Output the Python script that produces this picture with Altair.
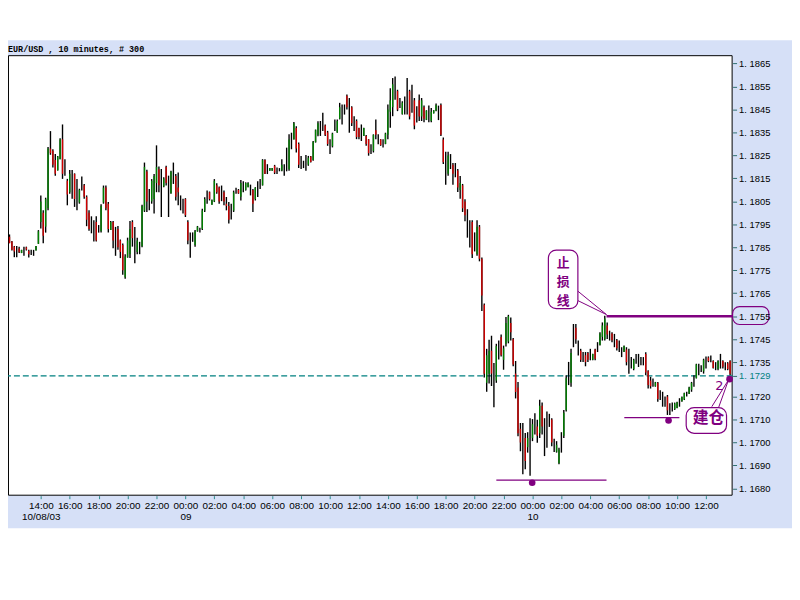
import altair as alt
import pandas as pd

# ---------------- data ----------------
title_text = "EUR/USD , 10 minutes, # 300"
bar_start = "2003-10-08 11:50"          # first 10-minute bar
day0 = "2003-10-08 00:00"

opens = [
    1.17896, 1.17875, 1.17853, 1.17835, 1.17845, 1.17825, 1.17835, 1.17850, 1.17835, 1.17825,
    1.17825, 1.17836, 1.17865, 1.17960, 1.18000, 1.17940, 1.18020, 1.18280, 1.18270, 1.18230,
    1.18185, 1.18234, 1.18320, 1.18175, 1.18140, 1.18090, 1.18135, 1.18170, 1.18065, 1.18045,
    1.18115, 1.18120, 1.18070, 1.18000, 1.17955, 1.17925, 1.17960, 1.17925, 1.17920, 1.18045,
    1.18110, 1.18040, 1.17925, 1.17960, 1.17870, 1.17930, 1.17880, 1.17860, 1.17720, 1.17806,
    1.17820, 1.17960, 1.17840, 1.17830, 1.17845, 1.17855, 1.18010, 1.18180, 1.18050, 1.18050,
    1.18060, 1.18130, 1.18190, 1.18120, 1.18115, 1.18200, 1.18115, 1.18085, 1.18175, 1.18160,
    1.18110, 1.18045, 1.18025, 1.18060, 1.17960, 1.17855, 1.17890, 1.17860, 1.17920, 1.17925,
    1.17930, 1.18010, 1.18065, 1.18090, 1.18035, 1.18050, 1.18120, 1.18110, 1.18085, 1.18090,
    1.18040, 1.18030, 1.17995, 1.18010, 1.18095, 1.18100, 1.18070, 1.18115, 1.18100, 1.18112,
    1.18100, 1.18100, 1.18060, 1.18105, 1.18125, 1.18120, 1.18230, 1.18190, 1.18183, 1.18183,
    1.18205, 1.18185, 1.18188, 1.18185, 1.18190, 1.18230, 1.18190, 1.18310, 1.18320, 1.18370,
    1.18300, 1.18220, 1.18210, 1.18215, 1.18210, 1.18245, 1.18230, 1.18308, 1.18340, 1.18370,
    1.18395, 1.18380, 1.18350, 1.18290, 1.18290, 1.18380, 1.18350, 1.18410, 1.18430, 1.18450,
    1.18510, 1.18420, 1.18460, 1.18390, 1.18400, 1.18370, 1.18350, 1.18335, 1.18335, 1.18320,
    1.18275, 1.18270, 1.18360, 1.18320, 1.18320, 1.18300, 1.18300, 1.18340, 1.18440, 1.18460,
    1.18540, 1.18530, 1.18480, 1.18430, 1.18470, 1.18500, 1.18530, 1.18490, 1.18490, 1.18430,
    1.18490, 1.18420, 1.18460, 1.18405, 1.18430, 1.18400, 1.18433, 1.18445, 1.18435, 1.18470,
    1.18320, 1.18200, 1.18170, 1.18220, 1.18210, 1.18185, 1.18185, 1.18100, 1.18120, 1.18050,
    1.17950, 1.17900, 1.17960, 1.17870, 1.17820, 1.17940, 1.17800, 1.17600, 1.17260, 1.17300,
    1.17400, 1.17260, 1.17270, 1.17400, 1.17460, 1.17360, 1.17430, 1.17440, 1.17520, 1.17450,
    1.17300, 1.17240, 1.17060, 1.16960, 1.17020, 1.16980, 1.16980, 1.17020, 1.17080, 1.17070,
    1.17040, 1.17160, 1.17040, 1.17050, 1.17095, 1.17100, 1.16990, 1.16960, 1.16910, 1.16990,
    1.17030, 1.17140, 1.17300, 1.17260, 1.17460, 1.17500, 1.17410, 1.17400, 1.17370, 1.17380,
    1.17390, 1.17380, 1.17360, 1.17405, 1.17415, 1.17425, 1.17460, 1.17450, 1.17510, 1.17465,
    1.17475, 1.17445, 1.17445, 1.17420, 1.17390, 1.17395, 1.17405, 1.17350, 1.17345, 1.17320,
    1.17365, 1.17355, 1.17355, 1.17350, 1.17385, 1.17310, 1.17270, 1.17260, 1.17245, 1.17260,
    1.17205, 1.17185, 1.17175, 1.17200, 1.17145, 1.17155, 1.17145, 1.17150, 1.17175, 1.17180,
    1.17188, 1.17210, 1.17212, 1.17230, 1.17265, 1.17280, 1.17320, 1.17320, 1.17310, 1.17350,
    1.17370, 1.17365, 1.17355, 1.17330, 1.17320, 1.17350, 1.17355, 1.17330, 1.17345, 1.17355,
]

highs = [
    1.17906, 1.17878, 1.17856, 1.17856, 1.17853, 1.17839, 1.17853, 1.17853, 1.17839, 1.17839,
    1.17839, 1.17856, 1.17925, 1.18076, 1.18011, 1.18066, 1.18287, 1.18356, 1.18277, 1.18256,
    1.18248, 1.18325, 1.18385, 1.18234, 1.18148, 1.18187, 1.18187, 1.18172, 1.18148, 1.18105,
    1.18158, 1.18126, 1.18076, 1.18011, 1.17985, 1.17968, 1.17985, 1.17947, 1.18037, 1.18119,
    1.18119, 1.18047, 1.17965, 1.17965, 1.17939, 1.17943, 1.17884, 1.17867, 1.17820, 1.17892,
    1.17965, 1.17968, 1.17939, 1.17892, 1.17874, 1.18035, 1.18219, 1.18188, 1.18104, 1.18147,
    1.18169, 1.18294, 1.18202, 1.18191, 1.18155, 1.18205, 1.18162, 1.18183, 1.18219, 1.18169,
    1.18176, 1.18076, 1.18061, 1.18064, 1.17968, 1.17915, 1.17915, 1.17925, 1.17943, 1.17935,
    1.18018, 1.18068, 1.18097, 1.18093, 1.18058, 1.18147, 1.18129, 1.18115, 1.18119, 1.18097,
    1.18069, 1.18047, 1.18040, 1.18097, 1.18109, 1.18104, 1.18143, 1.18138, 1.18133, 1.18133,
    1.18123, 1.18104, 1.18112, 1.18138, 1.18148, 1.18234, 1.18234, 1.18212, 1.18195, 1.18195,
    1.18209, 1.18198, 1.18195, 1.18234, 1.18212, 1.18284, 1.18342, 1.18349, 1.18396, 1.18377,
    1.18306, 1.18248, 1.18227, 1.18252, 1.18248, 1.18248, 1.18313, 1.18363, 1.18399, 1.18400,
    1.18436, 1.18385, 1.18357, 1.18321, 1.18349, 1.18407, 1.18407, 1.18479, 1.18472, 1.18472,
    1.18515, 1.18500, 1.18464, 1.18421, 1.18407, 1.18371, 1.18385, 1.18371, 1.18339, 1.18321,
    1.18299, 1.18342, 1.18407, 1.18342, 1.18321, 1.18321, 1.18349, 1.18472, 1.18543, 1.18587,
    1.18594, 1.18536, 1.18500, 1.18486, 1.18507, 1.18587, 1.18536, 1.18558, 1.18500, 1.18464,
    1.18515, 1.18500, 1.18467, 1.18447, 1.18467, 1.18457, 1.18447, 1.18476, 1.18467, 1.18476,
    1.18328, 1.18266, 1.18266, 1.18256, 1.18217, 1.18217, 1.18191, 1.18160, 1.18126, 1.18059,
    1.18016, 1.17968, 1.17968, 1.17915, 1.17968, 1.17947, 1.17806, 1.17605, 1.17408, 1.17447,
    1.17465, 1.17346, 1.17430, 1.17444, 1.17470, 1.17422, 1.17547, 1.17556, 1.17544, 1.17455,
    1.17355, 1.17264, 1.17085, 1.17085, 1.17042, 1.17045, 1.17106, 1.17102, 1.17128, 1.17099,
    1.17186, 1.17174, 1.17106, 1.17135, 1.17125, 1.17106, 1.17016, 1.17006, 1.16977, 1.17045,
    1.17142, 1.17293, 1.17351, 1.17408, 1.17516, 1.17516, 1.17444, 1.17408, 1.17394, 1.17394,
    1.17394, 1.17408, 1.17387, 1.17408, 1.17437, 1.17480, 1.17523, 1.17552, 1.17523, 1.17487,
    1.17480, 1.17473, 1.17451, 1.17444, 1.17415, 1.17423, 1.17415, 1.17408, 1.17372, 1.17365,
    1.17386, 1.17386, 1.17372, 1.17372, 1.17393, 1.17315, 1.17286, 1.17279, 1.17264, 1.17264,
    1.17228, 1.17221, 1.17200, 1.17207, 1.17171, 1.17174, 1.17174, 1.17178, 1.17193, 1.17200,
    1.17217, 1.17221, 1.17243, 1.17264, 1.17293, 1.17343, 1.17343, 1.17336, 1.17365, 1.17375,
    1.17375, 1.17379, 1.17358, 1.17350, 1.17358, 1.17386, 1.17358, 1.17350, 1.17350, 1.17358,
]

lows = [
    1.17868, 1.17836, 1.17807, 1.17807, 1.17825, 1.17825, 1.17813, 1.17836, 1.17806, 1.17817,
    1.17813, 1.17836, 1.17865, 1.17932, 1.17868, 1.17914, 1.18011, 1.18253, 1.18198, 1.18162,
    1.18184, 1.18234, 1.18148, 1.18162, 1.18033, 1.18083, 1.18062, 1.18026, 1.18011, 1.18040,
    1.18097, 1.18062, 1.17942, 1.17922, 1.17911, 1.17875, 1.17875, 1.17914, 1.17914, 1.18040,
    1.18011, 1.17914, 1.17925, 1.17846, 1.17813, 1.17839, 1.17803, 1.17731, 1.17713, 1.17805,
    1.17803, 1.17853, 1.17781, 1.17820, 1.17820, 1.17850, 1.18004, 1.18004, 1.18011, 1.18040,
    1.17997, 1.18090, 1.18090, 1.17982, 1.18112, 1.18119, 1.17982, 1.18083, 1.18126, 1.18054,
    1.18033, 1.18011, 1.17997, 1.17982, 1.17863, 1.17805, 1.17874, 1.17853, 1.17918, 1.17915,
    1.17925, 1.18004, 1.18040, 1.18054, 1.18035, 1.18047, 1.18083, 1.18040, 1.18051, 1.18033,
    1.18011, 1.17954, 1.17971, 1.18004, 1.18083, 1.18083, 1.18054, 1.18090, 1.18097, 1.18112,
    1.18076, 1.18004, 1.18054, 1.18069, 1.18104, 1.18119, 1.18169, 1.18169, 1.18183, 1.18183,
    1.18169, 1.18169, 1.18181, 1.18181, 1.18162, 1.18181, 1.18183, 1.18277, 1.18320, 1.18263,
    1.18195, 1.18191, 1.18195, 1.18183, 1.18205, 1.18219, 1.18227, 1.18306, 1.18334, 1.18335,
    1.18357, 1.18335, 1.18292, 1.18256, 1.18285, 1.18357, 1.18349, 1.18407, 1.18385, 1.18428,
    1.18450, 1.18349, 1.18378, 1.18357, 1.18321, 1.18321, 1.18313, 1.18335, 1.18292, 1.18249,
    1.18256, 1.18263, 1.18321, 1.18299, 1.18292, 1.18285, 1.18299, 1.18321, 1.18371, 1.18421,
    1.18493, 1.18443, 1.18457, 1.18428, 1.18428, 1.18428, 1.18407, 1.18436, 1.18364, 1.18393,
    1.18400, 1.18400, 1.18395, 1.18404, 1.18395, 1.18395, 1.18433, 1.18443, 1.18404, 1.18335,
    1.18213, 1.18122, 1.18162, 1.18191, 1.18122, 1.18155, 1.18091, 1.18062, 1.18004, 1.17964,
    1.17892, 1.17849, 1.17803, 1.17832, 1.17813, 1.17789, 1.17573, 1.17283, 1.17221, 1.17257,
    1.17246, 1.17154, 1.17260, 1.17361, 1.17375, 1.17317, 1.17418, 1.17432, 1.17444, 1.17332,
    1.17192, 1.17027, 1.16962, 1.16862, 1.16884, 1.16956, 1.16855, 1.17006, 1.17035, 1.16999,
    1.17020, 1.17035, 1.16941, 1.16977, 1.17068, 1.16984, 1.16959, 1.16956, 1.16905, 1.16956,
    1.17020, 1.17135, 1.17250, 1.17243, 1.17415, 1.17430, 1.17379, 1.17351, 1.17351, 1.17332,
    1.17351, 1.17358, 1.17358, 1.17358, 1.17394, 1.17423, 1.17444, 1.17444, 1.17451, 1.17444,
    1.17437, 1.17415, 1.17401, 1.17394, 1.17372, 1.17394, 1.17336, 1.17300, 1.17322, 1.17315,
    1.17343, 1.17329, 1.17336, 1.17336, 1.17293, 1.17235, 1.17235, 1.17243, 1.17243, 1.17178,
    1.17185, 1.17156, 1.17156, 1.17120, 1.17120, 1.17135, 1.17142, 1.17149, 1.17156, 1.17178,
    1.17185, 1.17200, 1.17211, 1.17221, 1.17243, 1.17279, 1.17293, 1.17307, 1.17300, 1.17322,
    1.17350, 1.17350, 1.17322, 1.17315, 1.17315, 1.17322, 1.17322, 1.17315, 1.17315, 1.17293,
]

closes = [
    1.17868, 1.17839, 1.17832, 1.17835, 1.17828, 1.17839, 1.17835, 1.17840, 1.17820, 1.17825,
    1.17825, 1.17856, 1.17920, 1.18050, 1.17900, 1.18060, 1.18280, 1.18260, 1.18210, 1.18170,
    1.18245, 1.18320, 1.18170, 1.18175, 1.18080, 1.18170, 1.18135, 1.18060, 1.18065, 1.18100,
    1.18115, 1.18070, 1.17970, 1.17930, 1.17955, 1.17925, 1.17880, 1.17925, 1.18030, 1.18110,
    1.18020, 1.17930, 1.17960, 1.17880, 1.17870, 1.17850, 1.17830, 1.17750, 1.17810, 1.17880,
    1.17930, 1.17890, 1.17840, 1.17880, 1.17845, 1.18030, 1.18200, 1.18050, 1.18050, 1.18140,
    1.18160, 1.18200, 1.18120, 1.18120, 1.18150, 1.18130, 1.18115, 1.18180, 1.18175, 1.18070,
    1.18090, 1.18045, 1.18025, 1.17990, 1.17880, 1.17855, 1.17890, 1.17920, 1.17940, 1.17925,
    1.18010, 1.18060, 1.18065, 1.18060, 1.18055, 1.18140, 1.18090, 1.18050, 1.18085, 1.18050,
    1.18030, 1.17970, 1.17995, 1.18090, 1.18095, 1.18085, 1.18130, 1.18115, 1.18130, 1.18130,
    1.18100, 1.18040, 1.18110, 1.18105, 1.18125, 1.18230, 1.18170, 1.18190, 1.18195, 1.18195,
    1.18175, 1.18185, 1.18188, 1.18210, 1.18190, 1.18230, 1.18320, 1.18310, 1.18390, 1.18280,
    1.18210, 1.18220, 1.18210, 1.18215, 1.18240, 1.18222, 1.18310, 1.18360, 1.18390, 1.18370,
    1.18395, 1.18340, 1.18300, 1.18290, 1.18345, 1.18380, 1.18400, 1.18460, 1.18430, 1.18450,
    1.18460, 1.18420, 1.18390, 1.18390, 1.18330, 1.18330, 1.18350, 1.18370, 1.18300, 1.18260,
    1.18275, 1.18340, 1.18340, 1.18320, 1.18295, 1.18300, 1.18345, 1.18450, 1.18490, 1.18560,
    1.18540, 1.18450, 1.18480, 1.18480, 1.18470, 1.18500, 1.18420, 1.18490, 1.18380, 1.18430,
    1.18420, 1.18490, 1.18410, 1.18445, 1.18430, 1.18440, 1.18447, 1.18470, 1.18435, 1.18340,
    1.18220, 1.18200, 1.18250, 1.18220, 1.18170, 1.18185, 1.18110, 1.18130, 1.18020, 1.17990,
    1.17950, 1.17900, 1.17820, 1.17870, 1.17940, 1.17800, 1.17640, 1.17300, 1.17380, 1.17400,
    1.17300, 1.17260, 1.17420, 1.17400, 1.17380, 1.17410, 1.17520, 1.17550, 1.17480, 1.17340,
    1.17220, 1.17040, 1.17000, 1.16960, 1.16920, 1.17020, 1.16980, 1.17080, 1.17080, 1.17030,
    1.17160, 1.17070, 1.17040, 1.17050, 1.17095, 1.17000, 1.16990, 1.16990, 1.16970, 1.16990,
    1.17130, 1.17280, 1.17300, 1.17390, 1.17460, 1.17450, 1.17410, 1.17360, 1.17370, 1.17350,
    1.17360, 1.17380, 1.17385, 1.17365, 1.17415, 1.17475, 1.17510, 1.17540, 1.17470, 1.17465,
    1.17445, 1.17445, 1.17410, 1.17420, 1.17390, 1.17420, 1.17350, 1.17350, 1.17345, 1.17360,
    1.17365, 1.17355, 1.17355, 1.17350, 1.17305, 1.17250, 1.17245, 1.17260, 1.17262, 1.17190,
    1.17205, 1.17185, 1.17175, 1.17140, 1.17145, 1.17155, 1.17170, 1.17175, 1.17175, 1.17198,
    1.17215, 1.17210, 1.17240, 1.17260, 1.17265, 1.17340, 1.17320, 1.17320, 1.17360, 1.17350,
    1.17355, 1.17365, 1.17325, 1.17330, 1.17355, 1.17350, 1.17330, 1.17330, 1.17320, 1.17300,
]

# axis ticks
ytick_values = [1.1865, 1.1855, 1.1845, 1.1835, 1.1825, 1.1815, 1.1805, 1.1795, 1.1785,
                1.1775, 1.1765, 1.1755, 1.1745, 1.1735, 1.1729, 1.1720, 1.1710, 1.1700,
                1.1690, 1.1680]
xtick_hours = [14, 16, 18, 20, 22, 24, 26, 28, 30, 32, 34, 36, 38, 40, 42, 44, 46, 48,
               50, 52, 54, 56, 58, 60]          # hours after 10/08 00:00
date_tick_hours = [14, 24, 48]
date_tick_labels = ["10/08/03", "09", "10"]

# annotations (hours after 10/08 00:00, price)
entry_price = 1.1729
stop_price = 1.1755
stop_line = {"t": [53.12], "t2": [61.84], "price": [stop_price]}
support_t = [45.50, 54.35]
support_t2 = [53.12, 58.16]
support_price = [1.16836, 1.17108]
dot_t = [47.98, 57.41, 61.63]
dot_price = [1.16825, 1.17096, 1.17276]
ptr_t = [51.14, 51.14, 60.40, 60.88]
ptr_p = [1.17659, 1.17618, 1.17156, 1.17154]
ptr_t2 = [53.12, 53.12, 61.56, 61.56]
ptr_p2 = [1.17557, 1.17557, 1.17273, 1.17273]
box_t = [49.10, 58.63]
box_t2 = [51.14, 61.42]
box_p = [1.17583, 1.17040]
box_p2 = [1.17838, 1.17152]
label_box = {"t": [61.84], "t2": [64.35], "p": [1.17514], "p2": [1.17592]}
stop_chars = ["止", "损", "线"]
stop_chars_p = [1.17781, 1.17700, 1.17618]
stop_chars_t = 50.12
entry_text = "建仓"
entry_text_pos = {"t": [60.17], "p": [1.17105]}
count_text = "2"
count_text_pos = {"t": [60.92], "p": [1.17245]}

# ---------------- build ----------------
PURPLE = "#800080"
TEAL = "#008080"
W, H = 732, 445

times = pd.date_range(bar_start, periods=len(opens), freq="10min")
hours = (times - pd.Timestamp(day0)) / pd.Timedelta(hours=1)
bars = pd.DataFrame({"t": hours, "open": opens, "high": highs, "low": lows, "close": closes})

xs = alt.Scale(domain=[11.73, 61.84], nice=False, zero=False)
ys = alt.Scale(domain=[1.167685, 1.186866], nice=False, zero=False)

cond = " : ".join(
    f"datum.value == {h} ? '{lab}'" for h, lab in zip(date_tick_hours, date_tick_labels)
) + " : ''"
x_label_expr = ("[(datum.value % 24 < 10 ? '0' : '') + (datum.value % 24) + ':00', "
                + cond + "]")

x_axis = alt.Axis(values=xtick_hours, labelExpr=x_label_expr, title=None, orient="bottom",
                  domain=False, grid=False, tickSize=3, tickColor="#2a8a8a",
                  labelFont="Liberation Sans", labelFontSize=10, labelColor="black",
                  labelPadding=2, labelLineHeight=11, labelFlush=False,
                  labelOverlap=False, zindex=1)
y_axis = alt.Axis(values=ytick_values, orient="right", title=None, domain=False, grid=False,
                  labelExpr="replace(format(datum.value, '.4f'), '.', '. ')",
                  labelColor={"condition": {"test": "abs(datum.value - 1.1729) < 0.00001",
                                            "value": TEAL}, "value": "black"},
                  tickSize=4, tickColor="#2f6f6f", labelPadding=2,
                  labelFont="Liberation Sans", labelFontSize=9.5, labelOverlap=False,
                  zindex=1)

one = pd.DataFrame({"k": [0]})

band = alt.Chart(one).mark_rect(color="#d6e0f7").encode(
    x=alt.value(0), x2=alt.value(792), y=alt.value(-15), y2=alt.value(478))
frame = alt.Chart(one).mark_rect(fill="white", stroke="black", strokeWidth=1).encode(
    x=alt.value(0.5), x2=alt.value(W - 0.5), y=alt.value(0.5), y2=alt.value(H - 0.5))
title_mark = alt.Chart(one).mark_text(
    align="left", baseline="alphabetic", font="Liberation Mono", fontSize=8.5,
    fontWeight="bold", color="black").encode(
    x=alt.value(0), y=alt.value(-3), text=alt.value(title_text))

entry_line = alt.Chart(pd.DataFrame({"price": [entry_price]})).mark_rule(
    color=TEAL, strokeDash=[6, 3], strokeWidth=1.2).encode(
    y=alt.Y("price:Q", scale=ys, axis=y_axis))

wicks = alt.Chart(bars).mark_rule(color="black", strokeWidth=1.4).encode(
    x=alt.X("t:Q", scale=xs, axis=x_axis),
    y=alt.Y("low:Q", scale=ys, axis=y_axis),
    y2="high:Q")
bodies = alt.Chart(bars).mark_rule(strokeWidth=1.4).encode(
    x=alt.X("t:Q", scale=xs, axis=x_axis),
    y=alt.Y("open:Q", scale=ys, axis=y_axis),
    y2="close:Q",
    color=alt.condition("datum.close >= datum.open", alt.value("#008000"), alt.value("#d00000")))

stop_rule = alt.Chart(pd.DataFrame(stop_line)).mark_rule(color=PURPLE, strokeWidth=2.5).encode(
    x=alt.X("t:Q", scale=xs, axis=x_axis), x2="t2:Q",
    y=alt.Y("price:Q", scale=ys, axis=y_axis))
support = alt.Chart(pd.DataFrame({"t": support_t, "t2": support_t2, "price": support_price})
                    ).mark_rule(color=PURPLE, strokeWidth=1.3).encode(
    x=alt.X("t:Q", scale=xs, axis=x_axis), x2="t2:Q",
    y=alt.Y("price:Q", scale=ys, axis=y_axis))
dots = alt.Chart(pd.DataFrame({"t": dot_t, "price": dot_price})).mark_circle(
    color=PURPLE, size=45, opacity=1).encode(
    x=alt.X("t:Q", scale=xs, axis=x_axis), y=alt.Y("price:Q", scale=ys, axis=y_axis))
pointers = alt.Chart(pd.DataFrame({"t": ptr_t, "p": ptr_p, "t2": ptr_t2, "p2": ptr_p2})
                     ).mark_rule(color=PURPLE, strokeWidth=1).encode(
    x=alt.X("t:Q", scale=xs, axis=x_axis), x2="t2:Q",
    y=alt.Y("p:Q", scale=ys, axis=y_axis), y2="p2:Q")
boxes = alt.Chart(pd.DataFrame({"t": box_t, "t2": box_t2, "p": box_p, "p2": box_p2})
                  ).mark_rect(fill="white", stroke=PURPLE, strokeWidth=1.2, cornerRadius=8).encode(
    x=alt.X("t:Q", scale=xs, axis=x_axis), x2="t2:Q",
    y=alt.Y("p:Q", scale=ys, axis=y_axis), y2="p2:Q")
lbox = alt.Chart(pd.DataFrame(label_box)).mark_rect(
    fill="white", fillOpacity=0, stroke=PURPLE, strokeWidth=1.2, cornerRadius=7).encode(
    x=alt.X("t:Q", scale=xs, axis=x_axis), x2="t2:Q",
    y=alt.Y("p:Q", scale=ys, axis=y_axis), y2="p2:Q")
stop_lbl = alt.Chart(pd.DataFrame({"ch": stop_chars, "p": stop_chars_p,
                                   "t": [stop_chars_t] * len(stop_chars)})).mark_text(
    font="Noto Sans CJK SC", fontSize=13, fontWeight="bold", color=PURPLE,
    align="center", baseline="middle").encode(
    x=alt.X("t:Q", scale=xs, axis=x_axis), y=alt.Y("p:Q", scale=ys, axis=y_axis),
    text="ch:N")
entry_lbl = alt.Chart(pd.DataFrame(entry_text_pos)).mark_text(
    font="Noto Sans CJK SC", fontSize=16, fontWeight="bold", color=PURPLE,
    align="center", baseline="middle").encode(
    x=alt.X("t:Q", scale=xs, axis=x_axis), y=alt.Y("p:Q", scale=ys, axis=y_axis),
    text=alt.value(entry_text))
count_lbl = alt.Chart(pd.DataFrame(count_text_pos)).mark_text(
    font="DejaVu Sans", fontSize=13, color=PURPLE, align="center", baseline="middle").encode(
    x=alt.X("t:Q", scale=xs, axis=x_axis), y=alt.Y("p:Q", scale=ys, axis=y_axis),
    text=alt.value(count_text))

chart = alt.layer(
    band, frame, title_mark, entry_line, wicks, bodies, stop_rule, support, dots,
    pointers, boxes, lbox, stop_lbl, entry_lbl, count_lbl
).properties(
    width=W, height=H,
    autosize=alt.AutoSizeParams(type="none"),
    padding={"left": 0, "top": 45, "right": 60, "bottom": 33},
    background="white",
).configure_view(stroke=None)

chart.save("out.html", embed_options={"renderer": "svg", "actions": False})
